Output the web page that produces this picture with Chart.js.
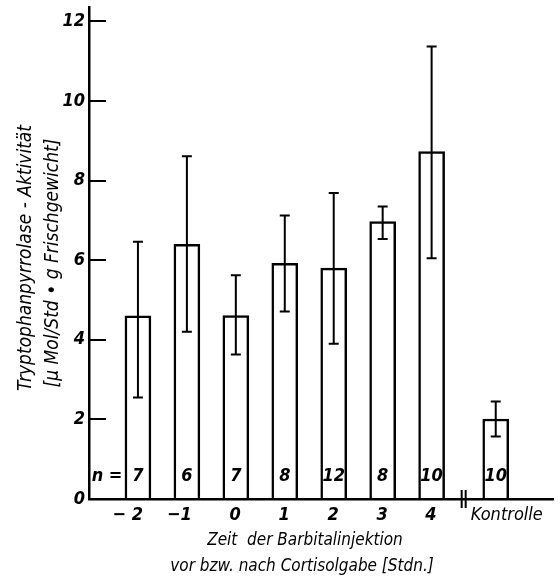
<!DOCTYPE html>
<html>
<head>
<meta charset="utf-8">
<script src="https://cdn.jsdelivr.net/npm/chart.js@4.4.0/dist/chart.umd.min.js"></script>
<style>
  html, body { margin: 0; padding: 0; background: #fff; }
</style>
</head>
<body>
<canvas id="myChart" width="560" height="579"></canvas>
<script>
// data
const xLabels = ["\u2212 2", "\u22121", "0", "1", "2", "3", "4", "Kontrolle"];
const xPos = [-2, -1, 0, 1, 2, 3, 4, 5.31];
const means = [4.6, 6.4, 4.61, 5.92, 5.8, 6.97, 8.73, 2.01];
const upper = [6.46, 8.61, 5.62, 7.12, 7.69, 7.35, 11.37, 2.45];
const lower = [2.55, 4.2, 3.63, 4.71, 3.9, 6.53, 6.05, 1.57];
const nValues = [7, 6, 7, 8, 12, 8, 10, 10];
const yTicks = [0, 2, 4, 6, 8, 10, 12];

const FONT = '"Liberation Sans Narrow", "DejaVu Sans Condensed", sans-serif';

// error bars, n values, x labels, axis titles
const extras = {
  id: "extras",
  afterDatasetsDraw(chart) {
    const ctx = chart.ctx;
    const xs = chart.scales.x;
    const ys = chart.scales.y;
    const bottom = chart.chartArea.bottom;
    ctx.save();
    ctx.strokeStyle = "#000";
    ctx.fillStyle = "#000";
    ctx.lineWidth = 2;
    xPos.forEach((v, i) => {
      const x = xs.getPixelForValue(v);
      const y1 = ys.getPixelForValue(upper[i]);
      const y2 = ys.getPixelForValue(lower[i]);
      ctx.beginPath();
      ctx.moveTo(x, y1); ctx.lineTo(x, y2);
      ctx.moveTo(x - 5, y1); ctx.lineTo(x + 5, y1);
      ctx.moveTo(x - 5, y2); ctx.lineTo(x + 5, y2);
      ctx.stroke();
    });

    // axis break
    const xb = xs.getPixelForValue((xPos[6] + xPos[7]) / 2);
    ctx.beginPath();
    ctx.moveTo(xb - 2, bottom - 9); ctx.lineTo(xb - 2, bottom + 9);
    ctx.moveTo(xb + 2, bottom - 9); ctx.lineTo(xb + 2, bottom + 9);
    ctx.stroke();

    // n values
    ctx.font = "bold italic 18px " + FONT;
    ctx.textBaseline = "alphabetic";
    ctx.textAlign = "center";
    nValues.forEach((n, i) => {
      ctx.fillText(String(n), xs.getPixelForValue(xPos[i]), bottom - 18);
    });
    ctx.fillText("n =", 107, bottom - 18);

    // x labels
    xLabels.forEach((t, i) => {
      const x = xs.getPixelForValue(xPos[i]);
      if (i === xLabels.length - 1) {
        ctx.textAlign = "left";
        ctx.font = "italic 18px " + FONT;
        ctx.fillText(t, x - 25, bottom + 21);
      } else {
        ctx.textAlign = "right";
        ctx.fillText(t, x + 5, bottom + 21);
      }
    });

    // x title
    ctx.font = "italic 17px " + FONT;
    ctx.textAlign = "center";
    ctx.fillText("Zeit  der Barbitalinjektion", 305, bottom + 46);
    ctx.fillText("vor bzw. nach Cortisolgabe [Stdn.]", 302, bottom + 72);

    // y title
    ctx.font = "italic 19px " + FONT;
    ctx.save();
    ctx.translate(31, 258);
    ctx.rotate(-Math.PI / 2);
    ctx.fillText("Tryptophanpyrrolase - Aktivit\u00e4t", 0, 0);
    ctx.restore();
    ctx.save();
    ctx.translate(58, 263);
    ctx.rotate(-Math.PI / 2);
    ctx.fillText("[\u03bc Mol/Std \u2022 g Frischgewicht]", 0, 0);
    ctx.restore();
    ctx.restore();
  }
};

new Chart("myChart", {
  type: "bar",
  data: {
    datasets: [
      {
        data: xPos.map((x, i) => ({ x: x, y: means[i] })),
        backgroundColor: "#fff",
        borderColor: "#000",
        borderWidth: 2.5,
        barThickness: 26
      }
    ]
  },
  options: {
    responsive: false,
    animation: false,
    layout: { padding: { left: 0, top: 7, right: 7, bottom: 0 } },
    plugins: { legend: { display: false }, tooltip: { enabled: false } },
    scales: {
      x: {
        type: "linear",
        offset: false,
        min: -3,
        max: 6.48,
        grid: { display: false },
        ticks: { display: false },
        border: { color: "#000", width: 2.5 },
        afterFit: (s) => { s.height = 80; s.paddingLeft = 0; s.paddingRight = 0; }
      },
      y: {
        min: 0,
        max: 12.36,
        afterBuildTicks: (s) => { s.ticks = yTicks.map((v) => ({ value: v })); },
        grid: { drawOnChartArea: false, color: "#000", lineWidth: 2, tickLength: -17 },
        border: { color: "#000", width: 2.5 },
        ticks: {
          color: "#000",
          padding: 21,
          font: { family: FONT, size: 18, style: "italic", weight: "bold" }
        },
        afterFit: (s) => { s.width = 89; s.paddingTop = 0; s.paddingBottom = 0; }
      }
    }
  },
  plugins: [extras]
});
</script>
</body>
</html>
